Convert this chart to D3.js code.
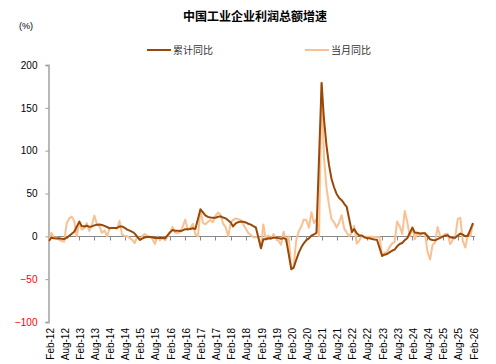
<!DOCTYPE html>
<html>
<head>
<meta charset="utf-8">
<script src="https://cdn.jsdelivr.net/npm/d3@7"></script>
<style>
  body { margin: 0; background: #fff; }
  svg { display: block; }
</style>
</head>
<body>
<div id="chart"></div>
<script>
// data: monthly points from Feb-12; January has no cumulative figure (null)
var startMonth = new Date(2012, 1, 1);

var cumulative = [
  -5.2, -1.6, -2.2, -2.4, -2.2, -2.7, -3.1, -1.8, 0.5, 3.0, 5.3,
  null, 17.2, 12.1, 11.4, 12.3, 11.1, 11.6, 12.8, 13.5, 13.7, 13.2, 12.2,
  null, 9.4, 9.6, 9.6, 9.8, 11.4, 11.6, 10.0, 7.9, 6.7, 5.3, 3.3,
  null, -4.2, -2.7, -1.3, -0.8, -0.7, -1.0, -1.9, -1.7, -2.0, -1.9, -2.3,
  null, 4.8, 7.4, 6.5, 6.4, 6.2, 6.9, 8.4, 8.4, 8.6, 9.4, 8.5,
  null, 31.5, 28.3, 24.4, 22.7, 22.0, 21.6, 21.6, 22.8, 23.3, 21.9, 21.0,
  null, 16.1, 11.6, 15.0, 16.5, 17.2, 17.1, 16.2, 14.7, 13.6, 11.8, 10.3,
  null, -14.0, -3.3, -3.4, -2.3, -2.4, -1.7, -1.7, -2.1, -2.9, -2.1, -3.3,
  null, -38.3, -36.7, -27.4, -19.3, -12.8, -8.1, -4.4, -2.4, 0.7, 2.4, 4.1,
  null, 178.9, 137.3, 106.0, 83.4, 66.9, 57.3, 49.5, 44.7, 42.2, 38.0, 34.3,
  null, 5.0, 8.5, 3.5, 1.0, 1.0, -1.1, -2.1, -2.3, -3.0, -3.6, -4.0,
  null, -22.9, -21.4, -20.6, -18.8, -16.8, -15.5, -11.7, -9.0, -7.8, -4.4, -2.3,
  null, 10.2, 4.3, 4.3, 3.4, 3.5, 3.6, 0.5, -3.5, -4.3, -4.7, -3.3,
  null, -0.3, 0.8, 1.4, -1.1, -1.8, -1.7, 0.9, 3.2, 1.9, 0.1, 0.6,
  null, 15.5
];

var monthly = [
  -5.2, 4.2, -2.2, -1.0, -4.0, -5.4, -6.2, 15.0, 21.0, 23.0, 18.0,
  0, 17.2, 8.0, 9.3, 15.5, 6.3, 12.5, 24.2, 14.0, 12.0, 4.0, 7.0,
  0, 9.4, 10.1, 9.6, 8.9, 17.9, 2.0, 0.4, 0.4, -2.1, -4.2, -8.0,
  0, -4.2, 0.4, 2.6, 0.6, -0.3, -2.9, -8.8, -0.1, -4.6, -1.4, -4.7,
  0, 4.8, 11.1, 4.2, 3.7, 5.1, 11.0, 19.5, 7.7, 9.8, 14.5, 2.3,
  0, 31.5, 16.0, 14.0, 16.7, 19.1, 16.5, 24.0, 27.7, 25.1, 14.9, 10.8,
  0, 16.1, 19.0, 21.0, 20.0, 19.0, 14.0, 9.0, 4.0, 1.5, -1.0, -1.0,
  0, -14.0, 13.9, -3.7, 1.1, -3.1, 2.6, -2.0, -5.3, -9.9, 5.4, -6.3,
  0, -38.3, -34.9, -4.3, 6.0, 11.5, 19.6, 19.1, 10.1, 28.2, 15.5, 20.1,
  0, 178.9, 92.3, 57.0, 36.4, 20.0, 16.4, 10.1, 16.3, 24.6, 9.0, 4.2,
  0, 5.0, 12.2, -8.5, -5.0, 0.8, -0.5, -0.5, -0.6, -0.6, -0.8, -0.8,
  -1.0, -22.9, -19.2, -18.2, -12.6, -8.3, -6.7, 17.2, 11.9, 2.7, 29.5, 16.8,
  0, 10.2, -3.5, 4.0, 0.7, 3.6, 4.1, -17.8, -27.1, -10.0, -7.3, 11.0,
  0, -0.3, 2.6, 3.0, -9.1, -4.3, -1.5, 20.4, 21.6, -5.5, -13.1, 3.0,
  0, 15.5
];

var tickLabels = [
  "Feb-12", "Aug-12", "Feb-13", "Aug-13", "Feb-14", "Aug-14", "Feb-15", "Aug-15",
  "Feb-16", "Aug-16", "Feb-17", "Aug-17", "Feb-18", "Aug-18", "Feb-19", "Aug-19",
  "Feb-20", "Aug-20", "Feb-21", "Aug-21", "Feb-22", "Aug-22", "Feb-23", "Aug-23",
  "Feb-24", "Aug-24", "Feb-25", "Aug-25", "Feb-26"
];

var yTicks = [-100, -50, 0, 50, 100, 150, 200];
var seriesNames = ["累计同比", "当月同比"];
var colors = ["#984807", "#fac090"];

var width = 496, height = 364;
var parseTick = d3.timeParse("%b-%y");

var svg = d3.select("#chart").append("svg")
    .attr("width", width)
    .attr("height", height);

var x = d3.scaleTime()
    .domain([parseTick(tickLabels[0]), parseTick(tickLabels[tickLabels.length - 1])])
    .range([49, 473]);

var y = d3.scaleLinear()
    .domain([-100, 200])
    .range([322, 65]);

function toPoints(values) {
    return values.map(function (v, i) {
        return { date: d3.timeMonth.offset(startMonth, i), value: v };
    }).filter(function (d) { return d.value != null; });
}

// title and unit
svg.append("text")
    .attr("x", 255).attr("y", 21)
    .attr("text-anchor", "middle")
    .style("font-family", "'Noto Sans CJK SC', sans-serif")
    .style("font-size", "12px")
    .style("font-weight", "bold")
    .text("中国工业企业利润总额增速");

svg.append("text")
    .attr("x", 19).attr("y", 29)
    .style("font-family", "'Liberation Sans', Arial, sans-serif")
    .style("font-size", "9px")
    .text("(%)");

// legend
var legendX = [147, 305];
seriesNames.forEach(function (name, i) {
    var g = svg.append("g").attr("transform", "translate(" + legendX[i] + ",50)");
    g.append("line")
        .attr("x1", 0).attr("x2", 24)
        .attr("stroke", colors[i]).attr("stroke-width", 2);
    g.append("text")
        .attr("x", 26).attr("dy", "0.35em")
        .style("font-family", "'Noto Sans CJK SC', sans-serif")
        .style("font-size", "10px")
        .style("fill", "#333")
        .text(name);
});

// y axis
var yAxis = svg.append("g")
    .attr("transform", "translate(48.5,0)")
    .call(d3.axisLeft(y).tickValues(yTicks).tickSize(3).tickPadding(8));

yAxis.select(".domain").attr("stroke", "#b8b8b8").attr("stroke-width", 2);
yAxis.selectAll(".tick line").attr("stroke", "#999");
yAxis.selectAll(".tick text")
    .style("font-family", "'Liberation Sans', Arial, sans-serif")
    .style("font-size", "10px")
    .style("fill", function (d) { return d < 0 ? "#ff0000" : "#000"; });

// zero line with half-year ticks
var y0 = Math.round(y(0)) + 0.5;
svg.append("line")
    .attr("x1", 49).attr("x2", 475)
    .attr("y1", y0).attr("y2", y0)
    .attr("stroke", "#888").attr("stroke-width", 1);

var tickDates = tickLabels.map(parseTick);
svg.selectAll(".xtick")
    .data(tickDates.slice(1))
    .enter().append("line")
    .attr("class", "xtick")
    .attr("x1", function (d) { return Math.round(x(d)) + 0.5; })
    .attr("x2", function (d) { return Math.round(x(d)) + 0.5; })
    .attr("y1", y0).attr("y2", y0 + 4)
    .attr("stroke", "#888");

svg.selectAll(".xlabel")
    .data(tickLabels)
    .enter().append("text")
    .attr("class", "xlabel")
    .attr("transform", function (d) { return "translate(" + (x(parseTick(d)) + 1) + ",328) rotate(-90)"; })
    .attr("text-anchor", "end")
    .attr("dy", "0.35em")
    .style("font-family", "'Liberation Sans', Arial, sans-serif")
    .style("font-size", "10px")
    .text(function (d) { return d; });

// lines
var line = d3.line()
    .x(function (d) { return x(d.date); })
    .y(function (d) { return y(d.value); });

svg.append("path")
    .datum(toPoints(monthly))
    .attr("fill", "none")
    .attr("stroke", colors[1])
    .attr("stroke-width", 2)
    .attr("stroke-linejoin", "round")
    .attr("d", line);

svg.append("path")
    .datum(toPoints(cumulative))
    .attr("fill", "none")
    .attr("stroke", colors[0])
    .attr("stroke-width", 2)
    .attr("stroke-linejoin", "round")
    .attr("d", line);
</script>
</body>
</html>
